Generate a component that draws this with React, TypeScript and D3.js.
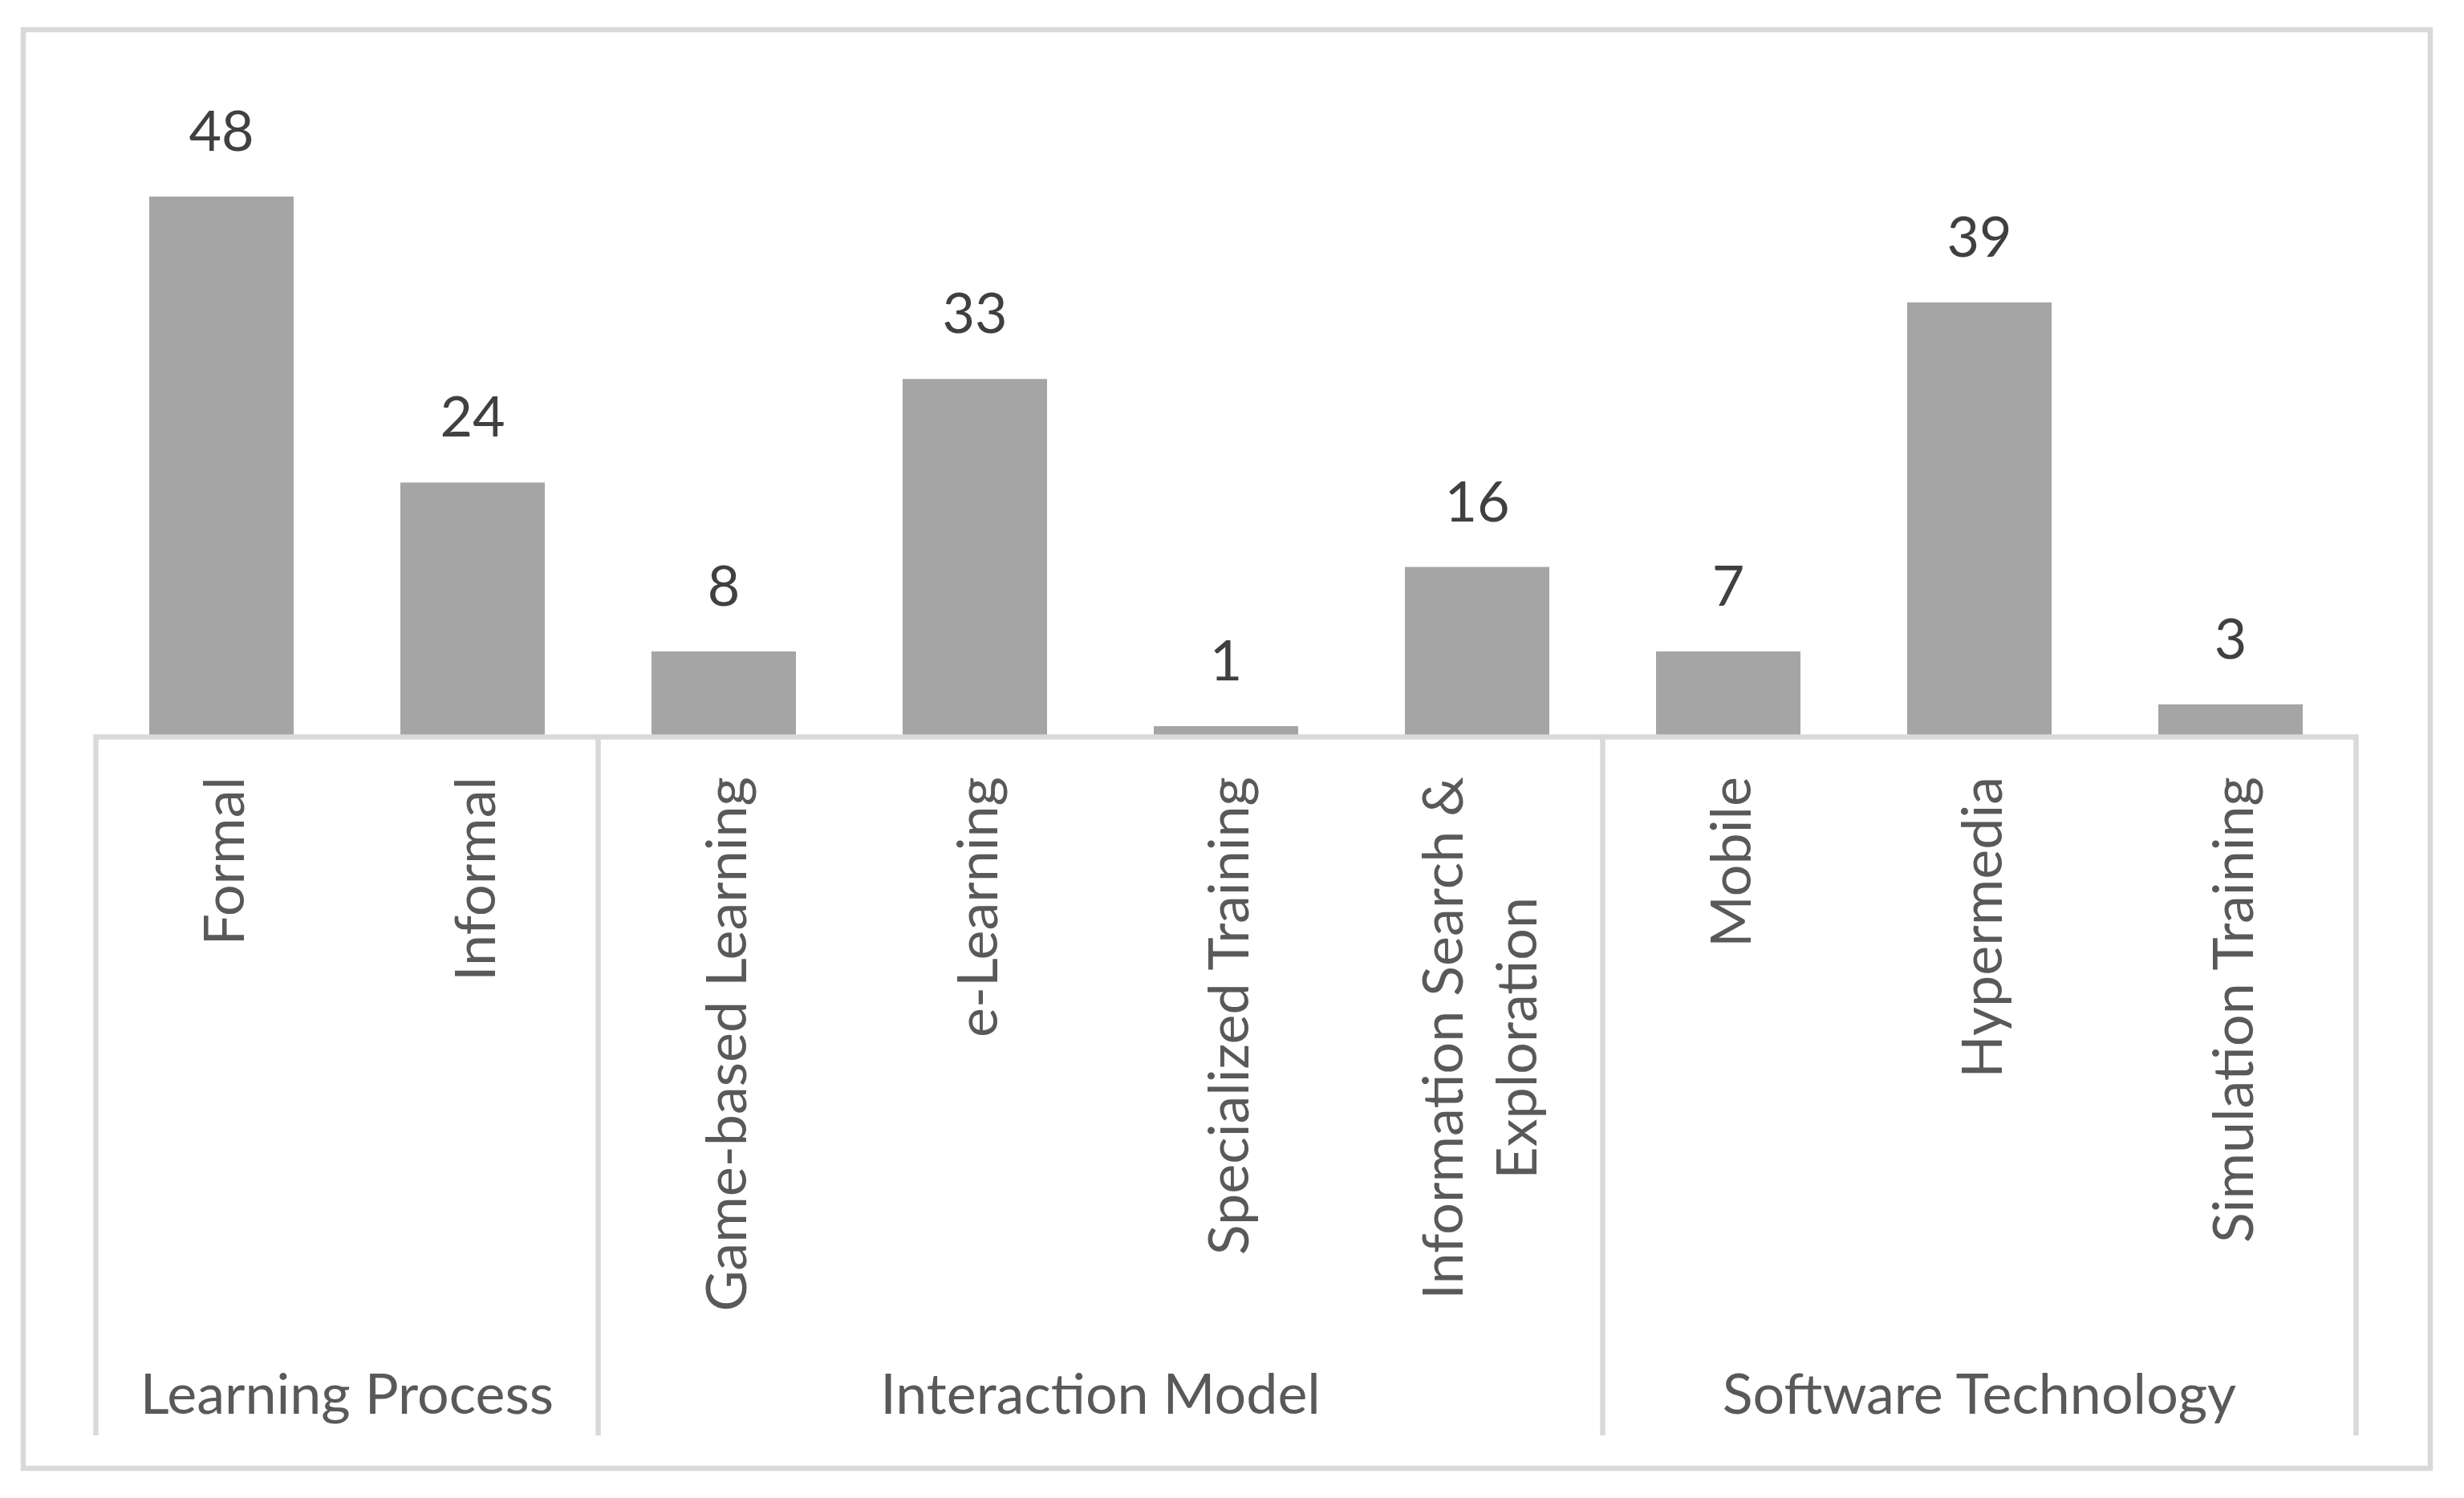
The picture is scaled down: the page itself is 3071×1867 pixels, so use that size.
import React, { useEffect, useRef } from 'react';
import * as d3 from 'd3';

// categories along the x axis ("\n" marks a line break in the label)
const categories = [
  'Formal',
  'Informal',
  'Game-based Learning',
  'e-Learning',
  'Specialized Training',
  'Information Search &\nExploration',
  'Mobile',
  'Hypermedia',
  'Simulation Training',
];

// groups spanning the categories, in order
const groupNames = ['Learning Process', 'Interaction Model', 'Software Technology'];
const groupSizes = [2, 4, 3];

// data labels printed above the bars
const dataLabels = [48, 24, 8, 33, 1, 16, 7, 39, 3];

// bar heights
const barValues = [48, 22.6, 7.6, 31.8, 0.96, 15.1, 7.6, 38.6, 2.9];

const WIDTH = 3071;
const HEIGHT = 1867;

const App: React.FC = () => {
  const ref = useRef<SVGSVGElement | null>(null);

  useEffect(() => {
    const svg = d3.select(ref.current);
    svg.selectAll('*').remove();

    const font = 'Lato, "Open Sans", sans-serif';
    const fontSize = 70;
    const grid = '#d9d9d9';

    const left = 119.5;
    const right = 2936.5;
    const base = 918.5;

    // chart frame
    svg
      .append('rect')
      .attr('x', 29)
      .attr('y', 37)
      .attr('width', 3000)
      .attr('height', 1793)
      .attr('fill', '#fff')
      .attr('stroke', grid)
      .attr('stroke-width', 6.5);

    const x = d3
      .scaleBand<string>()
      .domain(categories)
      .range([left, right])
      .paddingInner(0.425)
      .paddingOuter(0.2125);

    const y = d3.scaleLinear().domain([0, 48]).range([base, 245]);

    const rows = categories.map((c, i) => ({ c, v: barValues[i], label: dataLabels[i] }));

    svg
      .append('g')
      .selectAll('rect')
      .data(rows)
      .enter()
      .append('rect')
      .attr('x', (d) => x(d.c)!)
      .attr('y', (d) => y(d.v))
      .attr('width', x.bandwidth())
      .attr('height', (d) => y(0) - y(d.v))
      .attr('fill', '#a5a5a5');

    // value labels
    svg
      .append('g')
      .selectAll('text')
      .data(rows)
      .enter()
      .append('text')
      .attr('x', (d) => x(d.c)! + x.bandwidth() / 2)
      .attr('y', (d) => y(d.v) - 57)
      .attr('text-anchor', 'middle')
      .attr('font-family', font)
      .attr('font-size', fontSize)
      .attr('fill', '#404040')
      .text((d) => String(d.label));

    // axis line
    svg
      .append('line')
      .attr('x1', left)
      .attr('x2', right)
      .attr('y1', base)
      .attr('y2', base)
      .attr('stroke', grid)
      .attr('stroke-width', 6.5);

    // group separators
    const step = x.step();
    const bounds = [0, ...d3.cumsum(groupSizes)];
    svg
      .append('g')
      .selectAll('line')
      .data(bounds)
      .enter()
      .append('line')
      .attr('x1', (k) => left + k * step)
      .attr('x2', (k) => left + k * step)
      .attr('y1', base - 3.25)
      .attr('y2', 1789)
      .attr('stroke', grid)
      .attr('stroke-width', 6.5);

    // rotated category labels
    categories.forEach((c) => {
      const cx = x(c)! + x.bandwidth() / 2;
      const lines = c.split('\n');
      const g = svg.append('g').attr('transform', `translate(${cx},968) rotate(-90)`);
      const texts = lines.map((line, i) =>
        g
          .append('text')
          .attr('x', 0)
          .attr('y', 28 + (i - (lines.length - 1) / 2) * 92)
          .attr('text-anchor', 'end')
          .attr('font-family', font)
          .attr('font-size', fontSize)
          .attr('fill', '#595959')
          .text(line)
      );
      const lens = texts.map((t) => (t.node() as SVGTextElement).getComputedTextLength());
      const maxLen = d3.max(lens) || 0;
      texts.forEach((t, i) => t.attr('x', -(maxLen - lens[i]) / 2));
    });

    // group labels
    svg
      .append('g')
      .selectAll('text')
      .data(groupNames)
      .enter()
      .append('text')
      .attr('x', (_, i) => left + ((bounds[i] + bounds[i + 1]) / 2) * step)
      .attr('y', 1762)
      .attr('text-anchor', 'middle')
      .attr('font-family', font)
      .attr('font-size', fontSize)
      .attr('fill', '#595959')
      .text((d) => d);
  }, []);

  return (
    <svg
      ref={ref}
      width={WIDTH}
      height={HEIGHT}
      style={{ position: 'absolute', left: 0, top: 0, background: '#fff' }}
    />
  );
};

export default App;
